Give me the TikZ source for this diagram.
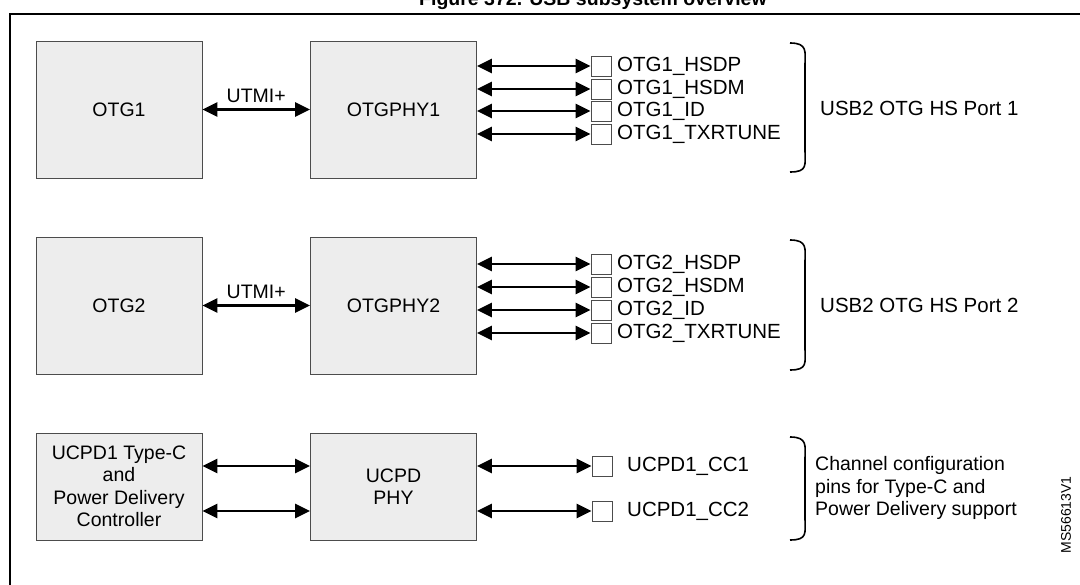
\documentclass[tikz,border=0pt]{standalone}
\usepackage{fontspec}
\setmainfont{Liberation Sans}
\usetikzlibrary{arrows.meta}
\begin{document}
\begin{tikzpicture}[x=1pt,y=-1pt,
  blk/.style={draw=black!70,fill=black!7,line width=0.8pt,minimum width=166pt,align=center,font=\fontsize{19.5}{22.5}\selectfont},
  pin/.style={draw=black!70,fill=white,line width=0.8pt,minimum width=20pt,minimum height=20pt,inner sep=0pt},
  lbl/.style={font=\fontsize{20.5}{22.5}\selectfont,anchor=west,inner sep=0pt},
  bi/.style={{Triangle[length=15pt,width=14pt]}-{Triangle[length=15pt,width=14pt]},line width=2.4pt},
  br/.style={line width=1.6pt}]
\useasboundingbox (0,0) rectangle (1080,585);
\node[font=\bfseries\fontsize{19.5}{22}\selectfont] (title) at (593,1) {Figure 372. USB subsystem overview};
\draw[line width=1.4pt] (10,585) -- (10,14) -- (1082,14);
% row 1
\node[blk,minimum height=137pt] (otg1) at (119,109.5) {OTG1};
\node[blk,minimum height=137pt] (phy1) at (393.5,109.5) {OTGPHY1};
\draw[bi] (otg1) -- (phy1) node[midway,above=2pt,font=\fontsize{19.5}{22}\selectfont] (u1) {UTMI+};
\foreach \y/\t [count=\i] in {66/OTG1\_HSDP,89/OTG1\_HSDM,111/OTG1\_ID,134/OTG1\_TXRTUNE}{
  \node[pin] (p1\i) at (601,\y) {};
  \node[lbl] (l1\i) at (617,\y) {\t};
  \draw[bi] (phy1.east|-p1\i) coordinate (s1\i) -- (p1\i.west);
}
\draw[br] (790,43) coordinate (b1a) .. controls (808,43) and (805,52) .. (805,65) -- (805,150) .. controls (805,165) and (808,172) .. (790,172) coordinate (b1b);
\node[lbl] (t1) at (820,108) {USB2 OTG HS Port 1};
% row 2
\node[blk,minimum height=137pt] (otg2) at (119,305.5) {OTG2};
\node[blk,minimum height=137pt] (phy2) at (393.5,305.5) {OTGPHY2};
\draw[bi] (otg2) -- (phy2) node[midway,above=2pt,font=\fontsize{19.5}{22}\selectfont] (u2) {UTMI+};
\foreach \y/\t [count=\i] in {264/OTG2\_HSDP,287/OTG2\_HSDM,310/OTG2\_ID,333/OTG2\_TXRTUNE}{
  \node[pin] (p2\i) at (601,\y) {};
  \node[lbl] (l2\i) at (617,\y) {\t};
  \draw[bi] (phy2.east|-p2\i) coordinate (s2\i) -- (p2\i.west);
}
\draw[br] (790,240) coordinate (b2a) .. controls (808,240) and (805,249) .. (805,262) -- (805,348) .. controls (805,363) and (808,370) .. (790,370) coordinate (b2b);
\node[lbl] (t2) at (820,305) {USB2 OTG HS Port 2};
% row 3
\node[blk,minimum height=107pt] (ucpd) at (119,486.5) {UCPD1 Type-C\\and\\Power Delivery\\Controller};
\node[blk,minimum height=107pt] (uphy) at (393.5,486.5) {UCPD\\PHY};
\coordinate (ua1) at (ucpd.east|-0,466); \coordinate (ub1) at (uphy.west|-0,466);
\coordinate (ua2) at (ucpd.east|-0,511); \coordinate (ub2) at (uphy.west|-0,511);
\draw[bi] (ua1) -- (ub1);
\draw[bi] (ua2) -- (ub2);
\foreach \y/\t [count=\i] in {466/UCPD1\_CC1,511/UCPD1\_CC2}{
  \node[pin] (p3\i) at (602,\y) {};
  \node[lbl] (l3\i) at (627,\y) {\t};
  \draw[bi] (uphy.east|-p3\i) coordinate (s3\i) -- (p3\i.west);
}
\draw[br] (790,437) coordinate (b3a) .. controls (808,437) and (805,446) .. (805,459) -- (805,518) .. controls (805,533) and (808,540) .. (790,540) coordinate (b3b);
\node[lbl,align=left,font=\fontsize{19.5}{22.5}\selectfont] (t3) at (815,488) {Channel configuration\\pins for Type-C and\\Power Delivery support};
\node[rotate=90,font=\fontsize{14}{16}\selectfont] (ms) at (1066,515) {MS56613V1};
\end{tikzpicture}
\end{document}
